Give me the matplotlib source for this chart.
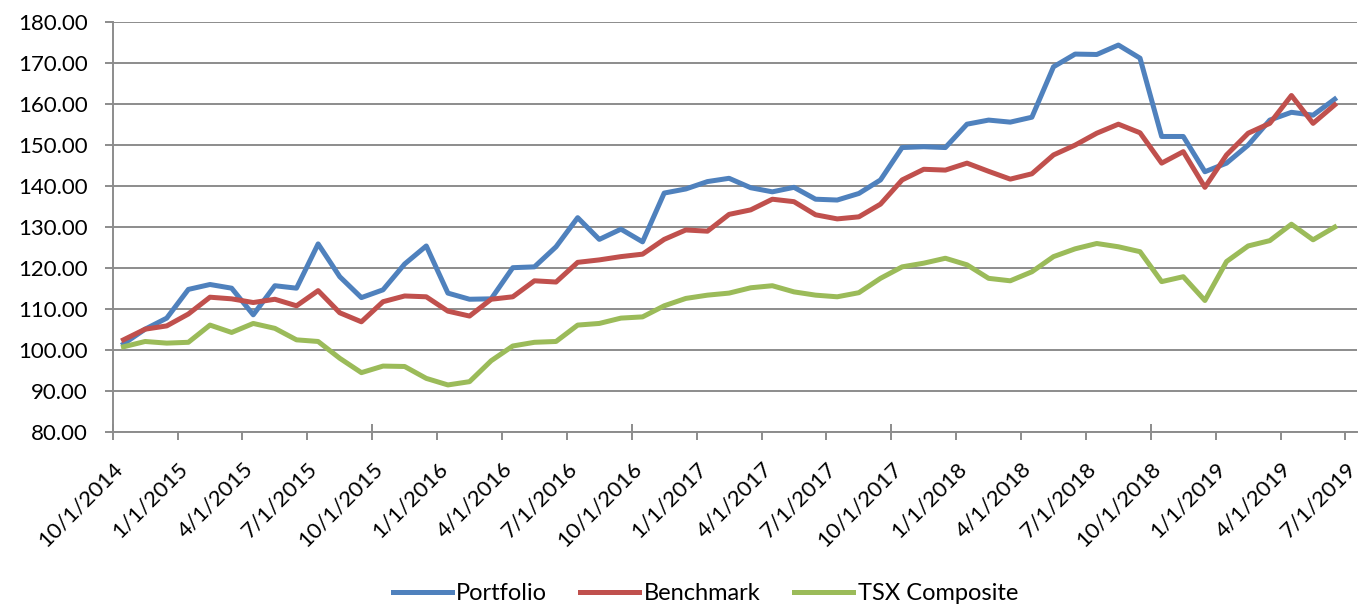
import matplotlib
matplotlib.use('Agg')
import matplotlib.pyplot as plt
import pandas as pd

# monthly observations, Oct 2014 .. Jun 2019
months = pd.period_range('2014-10', '2019-06', freq='M')

portfolio = [101.4, 105.0, 107.7, 114.7, 115.9, 115.0, 108.5, 115.6, 115.0, 125.8,
             117.8, 112.7, 114.6, 120.9, 125.3, 113.8, 112.3, 112.4, 120.0, 120.2,
             125.1, 132.2, 126.9, 129.4, 126.3, 138.2, 139.2, 141.0, 141.8, 139.5,
             138.5, 139.6, 136.7, 136.5, 138.1, 141.4, 149.3, 149.5, 149.3, 155.0,
             156.0, 155.5, 156.7, 169.0, 172.1, 172.0, 174.3, 171.1, 152.0, 152.0,
             143.4, 145.5, 149.9, 156.0, 157.9, 157.2, 161.1]
benchmark = [102.4, 105.0, 105.8, 108.7, 112.8, 112.4, 111.5, 112.3, 110.7, 114.4,
             109.0, 106.8, 111.7, 113.1, 112.9, 109.4, 108.2, 112.3, 112.9, 116.8,
             116.5, 121.3, 121.9, 122.7, 123.3, 126.9, 129.2, 128.9, 133.0, 134.1,
             136.7, 136.1, 132.9, 131.9, 132.4, 135.5, 141.4, 144.0, 143.8, 145.5,
             143.5, 141.6, 142.9, 147.5, 149.9, 152.8, 155.0, 152.9, 145.5, 148.3,
             139.6, 147.5, 152.8, 155.2, 162.0, 155.2, 159.7]
tsx = [100.7, 102.0, 101.6, 101.8, 106.0, 104.2, 106.4, 105.2, 102.4, 102.0,
       97.9, 94.4, 96.0, 95.9, 93.0, 91.4, 92.2, 97.3, 100.9, 101.8,
       102.0, 106.0, 106.4, 107.7, 108.0, 110.7, 112.5, 113.3, 113.8, 115.1,
       115.6, 114.1, 113.3, 112.9, 113.9, 117.4, 120.2, 121.1, 122.3, 120.7,
       117.4, 116.8, 119.0, 122.7, 124.6, 125.9, 125.1, 123.9, 116.6, 117.8,
       112.0, 121.5, 125.3, 126.6, 130.6, 126.8, 129.9]

tick_labels = ['10/1/2014', '1/1/2015', '4/1/2015', '7/1/2015', '10/1/2015',
               '1/1/2016', '4/1/2016', '7/1/2016', '10/1/2016', '1/1/2017',
               '4/1/2017', '7/1/2017', '10/1/2017', '1/1/2018', '4/1/2018',
               '7/1/2018', '10/1/2018', '1/1/2019', '4/1/2019', '7/1/2019']

plt.rcParams['font.family'] = ['Lato', 'DejaVu Sans']
plt.rcParams['font.size'] = 16

fig = plt.figure(figsize=(13.59, 6.04), dpi=100)
ax = fig.add_axes([0.0829, 0.2853, 0.9156, 0.6788])

# Excel month axis: each month is one slot, point in the middle of its slot
start = months[0]
x = [(m - start).n + 0.5 for m in months]

ax.plot(x, portfolio, color='#4F81BD', lw=3.6, label='Portfolio', solid_joinstyle='round')
ax.plot(x, benchmark, color='#C0504D', lw=3.6, label='Benchmark', solid_joinstyle='round')
ax.plot(x, tsx, color='#9BBB59', lw=3.6, label='TSX Composite', solid_joinstyle='round')

ax.set_xlim(0, 57.53)
ax.set_ylim(80, 180)
ax.set_yticks(range(80, 181, 10))
ax.set_yticklabels([f'{v:.2f}' for v in range(80, 181, 10)])

qticks = list(range(0, 58, 3))
ax.set_xticks(qticks)
ax.set_xticklabels(tick_labels, rotation=45, ha='right', va='top',
                   rotation_mode='anchor')
ax.set_xticks(list(range(0, 58, 12)), minor=True)
ax.xaxis.remove_overlapping_locs = False

grid_c = '#8C8C8C'
ax.grid(axis='y', color=grid_c, lw=1.4)
ax.set_axisbelow(True)
for s in ['top', 'right']:
    ax.spines[s].set_visible(False)
for s in ['left', 'bottom']:
    ax.spines[s].set_color(grid_c)
    ax.spines[s].set_linewidth(1.4)

ax.tick_params(axis='y', direction='out', length=6, width=1.4, color=grid_c, pad=12)
ax.tick_params(axis='x', which='major', direction='out', length=6, width=1.4,
               color=grid_c, pad=13)
ax.tick_params(axis='x', which='minor', direction='in', length=6, width=1.4, color=grid_c)

fig.legend(loc='center', bbox_to_anchor=(0.519, 0.0166), ncol=3, frameon=False,
           handlelength=2.5, handletextpad=0.2, columnspacing=1.4, fontsize=17)

fig.savefig('out.png', dpi=100)
